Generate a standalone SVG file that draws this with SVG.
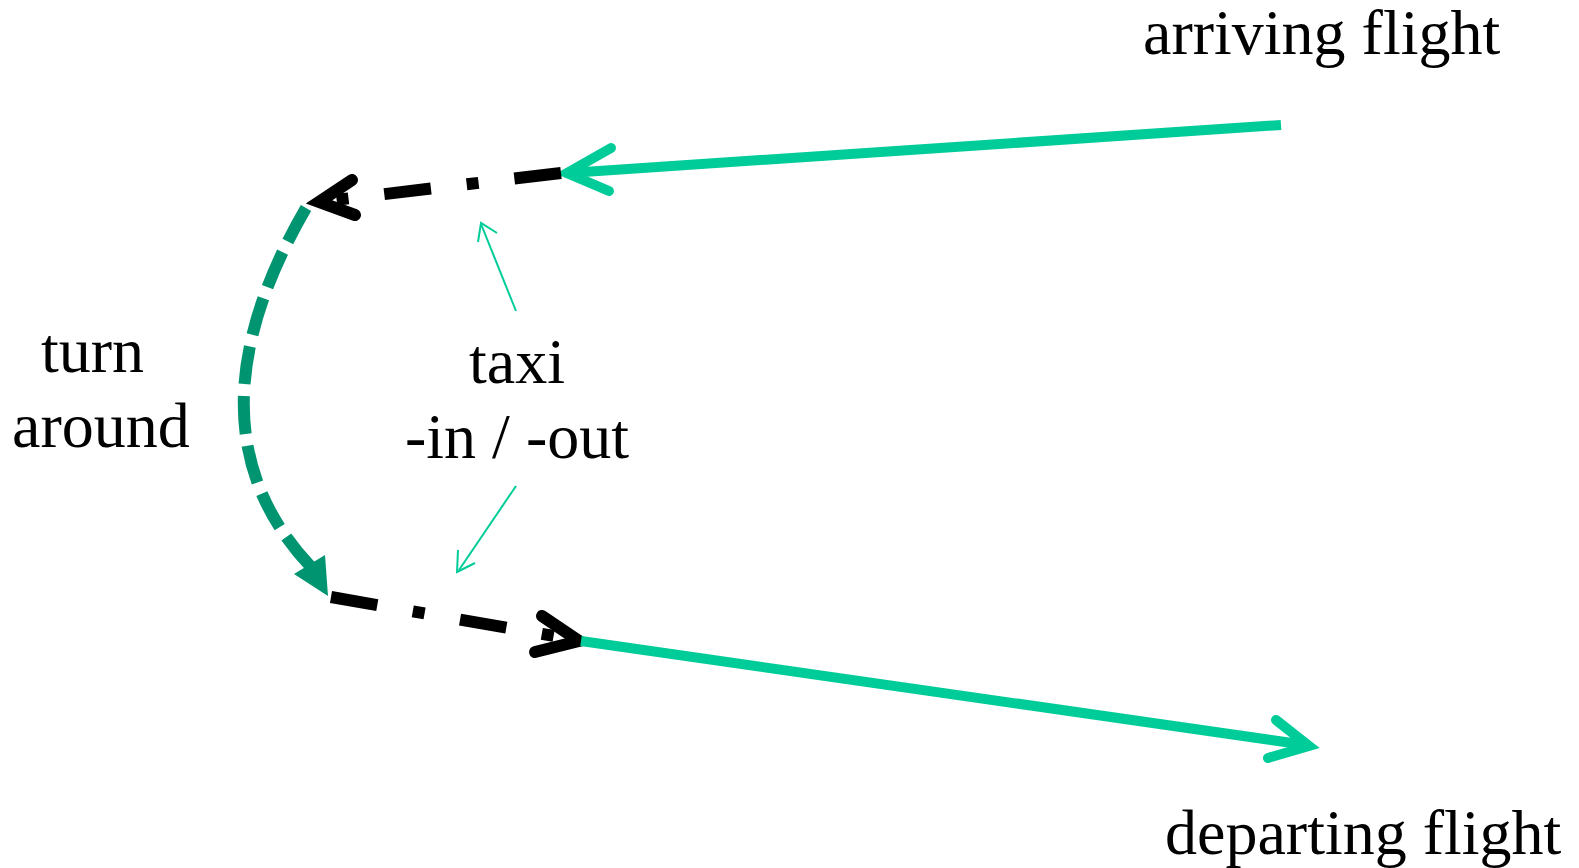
<svg xmlns="http://www.w3.org/2000/svg" width="1579" height="868" viewBox="0 0 1579 868">
<style>
  .lbl { font-family: "Liberation Serif", "Times New Roman", serif; font-size: 64px; fill: #000; }
  .flight { fill: none; stroke: #00CC99; stroke-width: 10; }
  .flighthead { fill: none; stroke: #00CC99; stroke-width: 10; stroke-linecap: round; stroke-linejoin: miter; }
  .taxi { fill: none; stroke: #000; stroke-width: 12; stroke-dasharray: 47 36 12 36; }
  .taxihead { fill: none; stroke: #000; stroke-width: 12; stroke-linecap: round; stroke-linejoin: miter; }
  .turn { fill: none; stroke: #009470; stroke-width: 12; stroke-dasharray: 38 12; }
  .turnhead { fill: #009470; stroke: none; }
  .pointer { fill: none; stroke: #00CC99; stroke-width: 2; }
</style>
<rect width="1579" height="868" fill="#fff"/>
<g id="connectors">
  <g id="arriving-line">
    <line class="flight" x1="1281" y1="125" x2="569" y2="173"/>
    <polyline class="flighthead" points="611,148 567,173 609,191"/>
  </g>
  <g id="taxi-in-line">
    <line class="taxi" x1="561" y1="173" x2="318" y2="202"/>
    <polyline class="taxihead" points="352,180 319,202 355,215"/>
  </g>
  <g id="turn-line">
    <path class="turn" d="M 306,208 C 235,330 210,460 311,567"/>
    <polygon class="turnhead" points="294,574 325,555 328,596"/>
  </g>
  <g id="taxi-out-line">
    <line class="taxi" x1="331" y1="597" x2="577" y2="640"/>
    <polyline class="taxihead" points="542,616 579,641 535,652"/>
  </g>
  <g id="departing-line">
    <line class="flight" x1="581" y1="641" x2="1306" y2="745"/>
    <polyline class="flighthead" points="1276,720 1309,746 1268,758"/>
  </g>
  <g id="pointer-up">
    <line class="pointer" x1="516" y1="311" x2="481" y2="224"/>
    <polyline class="pointer" points="478,242 481,223 497,233"/>
  </g>
  <g id="pointer-down">
    <line class="pointer" x1="516" y1="486" x2="459" y2="570"/>
    <polyline class="pointer" points="458,550 457,572 475,563"/>
  </g>
</g>
<g id="arriving-flight">
  <text class="lbl" x="1143" y="54">arriving flight</text>
</g>
<g id="departing-flight">
  <text class="lbl" x="1165" y="854">departing flight</text>
</g>
<g id="turn-around">
  <text class="lbl" x="41" y="372">turn</text>
  <text class="lbl" x="12" y="447">around</text>
</g>
<g id="taxi-in-out">
  <text class="lbl" x="517" y="383" text-anchor="middle">taxi</text>
  <text class="lbl" x="517" y="458" text-anchor="middle">-in / -out</text>
</g>
</svg>
